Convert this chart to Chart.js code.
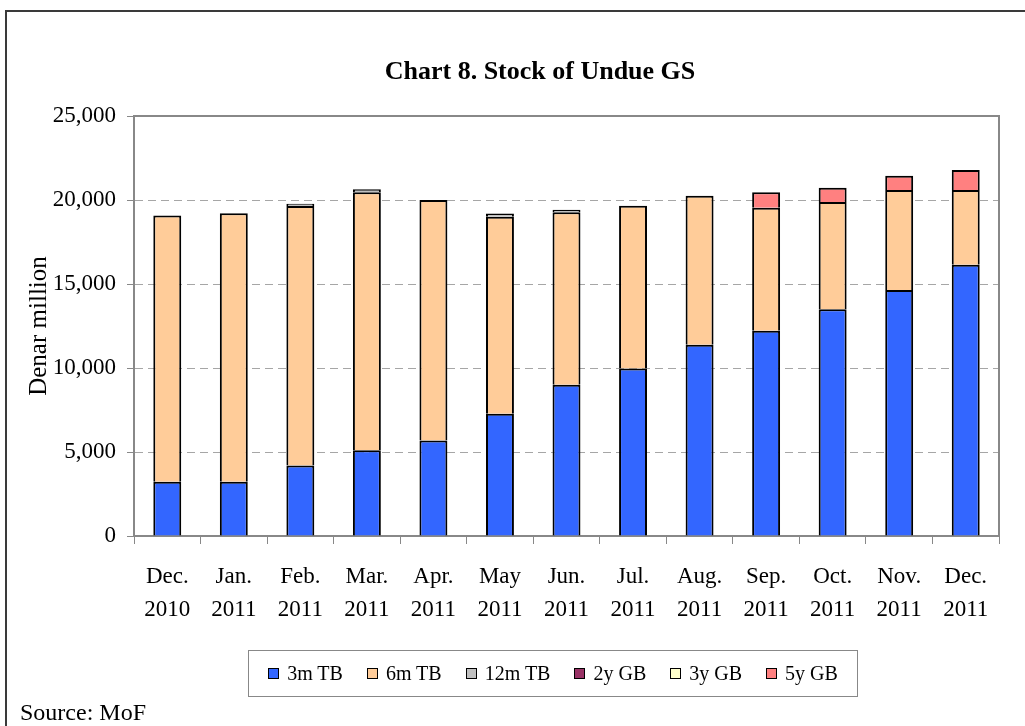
<!DOCTYPE html>
<html>
<head>
<meta charset="utf-8">
<title>Chart 8. Stock of Undue GS</title>
<script src="https://cdn.jsdelivr.net/npm/chart.js@4.4.1/dist/chart.umd.min.js"></script>
<style>
  html, body { margin: 0; padding: 0; background: #fff; overflow: hidden; }
  #wrap { position: relative; width: 1025px; height: 726px; font-family: "Liberation Serif", "Times New Roman", serif; color: #000; }
  #frame { position: absolute; left: 5px; top: 10px; width: 1040px; height: 740px; border-left: 2px solid #3a3a3a; border-top: 2px solid #3a3a3a; }
  #stockChart { position: absolute; left: 0; top: 0; }
  #title { position: absolute; left: 340px; top: 56px; width: 400px; text-align: center; font-weight: bold; font-size: 26px; line-height: 30px; }
  #legend { position: absolute; left: 248px; top: 650px; width: 610px; height: 47px; box-sizing: border-box; border: 1px solid #888;
            display: flex; align-items: center; justify-content: center; gap: 24px; font-size: 20px; }
  #legend .item { display: flex; align-items: center; white-space: nowrap; }
  #legend .swatch { width: 9px; height: 9px; border: 1.5px solid #000; margin-right: 8px; }
  #source { position: absolute; left: 20px; top: 699px; font-size: 24px; line-height: 27px; }
</style>
</head>
<body>
<div id="wrap">
  <div id="frame"></div>
  <canvas id="stockChart" width="1025" height="726"></canvas>
  <div id="title">Chart 8. Stock of Undue GS</div>
  <div id="legend"></div>
  <div id="source">Source: MoF</div>
</div>
<script>
// month labels, two lines each
const months = [
  ['Dec.', '2010'], ['Jan.', '2011'], ['Feb.', '2011'], ['Mar.', '2011'], ['Apr.', '2011'],
  ['May', '2011'], ['Jun.', '2011'], ['Jul.', '2011'], ['Aug.', '2011'], ['Sep.', '2011'],
  ['Oct.', '2011'], ['Nov.', '2011'], ['Dec.', '2011']
];

// stock by instrument, denar million
const tb3m  = [3230, 3230, 4190, 5100, 5690, 7280, 9000, 9970, 11380, 12210, 13500, 14650, 16140];
const tb6m  = [15840, 15980, 15460, 15360, 14310, 11730, 10270, 9690, 8880, 7330, 6380, 5940, 4450];
const tb12m = [0, 0, 130, 180, 0, 180, 150, 0, 0, 0, 0, 0, 0];
const gb2y  = [0, 0, 0, 0, 0, 0, 0, 0, 0, 0, 0, 0, 0];
const gb3y  = [0, 0, 0, 0, 0, 0, 0, 0, 0, 0, 0, 0, 0];
const gb5y  = [0, 0, 0, 0, 0, 0, 0, 0, 0, 920, 850, 850, 1190];

const yMax = 25000;
const yStep = 5000;

const serif = '"Liberation Serif", "Times New Roman", serif';

// no bottom edge, so the segment below supplies a single 2px divider
const makeSet = (label, data, color) => ({
  label: label,
  data: data,
  backgroundColor: color,
  borderColor: '#000',
  borderWidth: { top: 2, right: 2, bottom: 0, left: 2 },
  borderSkipped: false,
  barPercentage: 0.42,
  categoryPercentage: 1
});

// grey frame around the plot area
const plotFrame = {
  id: 'plotFrame',
  beforeDatasetsDraw(chart) {
    const { ctx, chartArea: a } = chart;
    ctx.save();
    ctx.strokeStyle = '#888';
    ctx.lineWidth = 2;
    ctx.strokeRect(a.left, a.top, a.right - a.left, a.bottom - a.top);
    ctx.restore();
  }
};

const chart = new Chart(document.getElementById('stockChart').getContext('2d'), {
  type: 'bar',
  data: {
    labels: months,
    datasets: [
      makeSet('3m TB', tb3m, '#3366FF'),
      makeSet('6m TB', tb6m, '#FFCC99'),
      makeSet('12m TB', tb12m, '#C0C0C0'),
      makeSet('2y GB', gb2y, '#993366'),
      makeSet('3y GB', gb3y, '#FFFFCC'),
      makeSet('5y GB', gb5y, '#FF8080')
    ]
  },
  options: {
    responsive: false,
    animation: false,
    devicePixelRatio: 1,
    layout: { padding: { left: 10, right: 26, top: 116, bottom: 90 } },
    plugins: {
      legend: { display: false },
      title: { display: false },
      tooltip: { enabled: false }
    },
    scales: {
      x: {
        stacked: true,
        grid: { offset: true, drawOnChartArea: false, tickLength: 8, color: '#888', lineWidth: 1 },
        border: { color: '#888', width: 2 },
        ticks: {
          color: '#000',
          font: { family: serif, size: 23, lineHeight: 1.45 },
          padding: 16,
          maxRotation: 0,
          autoSkip: false
        },
        afterFit: scale => { scale.height = 100; }
      },
      y: {
        stacked: true,
        min: 0,
        max: yMax,
        grid: {
          color: ctx => (ctx.tick && (ctx.tick.value === 0 || ctx.tick.value === yMax)) ? 'rgba(0,0,0,0)' : '#a6a6a6',
          tickColor: '#888',
          tickLength: 7,
          lineWidth: 1
        },
        border: { color: '#888', width: 2, dash: [8, 5] },
        ticks: {
          stepSize: yStep,
          color: '#000',
          font: { family: serif, size: 23 },
          padding: 11,
          callback: v => v.toLocaleString('en-US')
        },
        title: {
          display: true,
          text: 'Denar million',
          color: '#000',
          font: { family: serif, size: 25 },
          padding: { top: 14, bottom: 0 }
        },
        afterFit: scale => { scale.width = 124; }
      }
    }
  },
  plugins: [plotFrame]
});

// html legend built from the chart's datasets
const legendEl = document.getElementById('legend');
chart.data.datasets.forEach(ds => {
  const item = document.createElement('span');
  item.className = 'item';
  const sw = document.createElement('span');
  sw.className = 'swatch';
  sw.style.background = ds.backgroundColor;
  item.appendChild(sw);
  item.appendChild(document.createTextNode(ds.label));
  legendEl.appendChild(item);
});
</script>
</body>
</html>
